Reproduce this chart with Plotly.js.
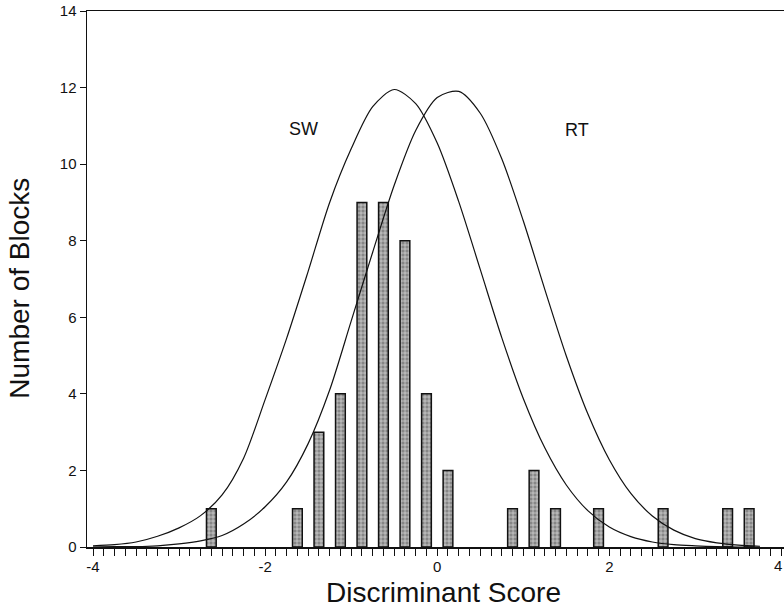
<!DOCTYPE html>
<html>
<head>
<meta charset="utf-8">
<script src="https://cdn.plot.ly/plotly-3.0.1.min.js"></script>
<style>html,body{margin:0;padding:0;background:#fff;}#chart{width:784px;height:612px;}</style>
</head>
<body>
<div id="chart"></div>
<script>
// Histogram bins (bin centres) and counts
const binCenters = [-2.625, -1.625, -1.375, -1.125, -0.875, -0.625, -0.375, -0.125, 0.125, 0.875, 1.125, 1.375, 1.875, 2.625, 3.375, 3.625];
const blockCounts = [1, 1, 3, 4, 9, 9, 8, 4, 2, 1, 2, 1, 1, 1, 1, 1];

// Curves
const curveX = [-4,-3.75,-3.5,-3.25,-3,-2.75,-2.5,-2.25,-2,-1.75,-1.5,-1.25,-1,-0.75,-0.5,-0.25,0,0.25,0.5,0.75,1,1.25,1.5,1.75,2,2.25,2.5,2.75,3,3.25,3.5,3.75];
const swCurve = [0.03,0.06,0.13,0.28,0.5,0.82,1.36,2.32,3.85,5.45,7.2,9.0,10.4,11.5,11.95,11.58,10.55,9.02,7.25,5.47,3.88,2.59,1.62,0.95,0.52,0.27,0.13,0.06,0.03,0.01,0.0,0.0];
const rtCurve = [0.0,0.01,0.01,0.03,0.08,0.16,0.3,0.6,1.05,1.7,2.7,4.1,5.9,7.7,9.45,10.88,11.74,11.9,11.33,10.14,8.52,6.73,4.99,3.48,2.28,1.4,0.81,0.44,0.22,0.11,0.05,0.02];

// Labels
const curveLabels = ["SW", "RT"];
const labelX = [-1.55, 1.63];
const labelY = [10.93, 10.9];
const xTickVals = [-4, -2, 0, 2, 4];
const xTickText = ["-4", "-2", "0", "2", ""];
const lastXTick = "4";
const yTickVals = [0, 2, 4, 6, 8, 10, 12, 14];
const xTitle = "Discriminant Score";
const yTitle = "Number of Blocks";

const FONT = "Liberation Sans, Arial, Helvetica, sans-serif";

const traces = [
  {
    type: "bar",
    x: binCenters,
    y: blockCounts,
    width: 0.113,
    marker: {
      color: "#a0a0a0",
      line: {color: "#111", width: 1.5},
      pattern: {shape: "+", fgcolor: "#dedede", bgcolor: "#868686", size: 4, solidity: 0.3, fillmode: "replace"}
    },
    hoverinfo: "skip",
    showlegend: false
  },
  {
    type: "scatter", mode: "lines",
    x: curveX, y: swCurve,
    line: {color: "#111", width: 1.2, shape: "spline", smoothing: 0.8},
    showlegend: false, hoverinfo: "skip"
  },
  {
    type: "scatter", mode: "lines",
    x: curveX, y: rtCurve,
    line: {color: "#111", width: 1.2, shape: "spline", smoothing: 0.8},
    showlegend: false, hoverinfo: "skip"
  }
];

const annotations = curveLabels.map((t, i) => ({
  x: labelX[i], y: labelY[i], xref: "x", yref: "y",
  text: t, showarrow: false,
  font: {family: FONT, size: 18, color: "#111"}
}));
// right-most x tick label, kept inside the page
annotations.push({
  x: 1, y: 0, xref: "paper", yref: "paper", xanchor: "right", yanchor: "top",
  yshift: -8, text: lastXTick, showarrow: false,
  font: {family: FONT, size: 15, color: "#111"}
});
// axis titles
annotations.push({
  x: 0.511, y: -0.085, xref: "paper", yref: "paper", xanchor: "center", yanchor: "middle",
  text: xTitle, showarrow: false,
  font: {family: FONT, size: 28, color: "#111"}
});
annotations.push({
  x: -0.096, y: 0.482, xref: "paper", yref: "paper", xanchor: "center", yanchor: "middle",
  textangle: -90, text: yTitle, showarrow: false,
  font: {family: FONT, size: 28, color: "#111"}
});

const layout = {
  width: 784, height: 612,
  margin: {l: 87, r: 0, t: 11, b: 65, autoexpand: false},
  paper_bgcolor: "#fff", plot_bgcolor: "#fff",
  font: {family: FONT, color: "#111"},
  bargap: 0,
  xaxis: {
    range: [-4.07, 4.03],
    tickmode: "array", tickvals: xTickVals, ticktext: xTickText,
    ticks: "outside", ticklen: 7, tickwidth: 1, tickcolor: "#111",
    ticklabelstandoff: -2,
    minor: {dtick: 0.125, tick0: 0, ticks: "outside", ticklen: 7, tickwidth: 1, tickcolor: "#111", showgrid: false},
    showgrid: false, zeroline: false,
    showline: true, linecolor: "#111", linewidth: 1.5, mirror: true,
    tickfont: {family: FONT, size: 15, color: "#111"},
    automargin: false
  },
  yaxis: {
    range: [0, 14],
    tickmode: "array", tickvals: yTickVals,
    ticks: "outside", ticklen: 6, tickwidth: 1, tickcolor: "#111",
    showgrid: false, zeroline: false,
    showline: true, linecolor: "#111", linewidth: 1.5,
    tickfont: {family: FONT, size: 15, color: "#111"},
    automargin: false
  },
  annotations: annotations
};

Plotly.newPlot("chart", traces, layout, {displayModeBar: false, staticPlot: true});
</script>
</body>
</html>
